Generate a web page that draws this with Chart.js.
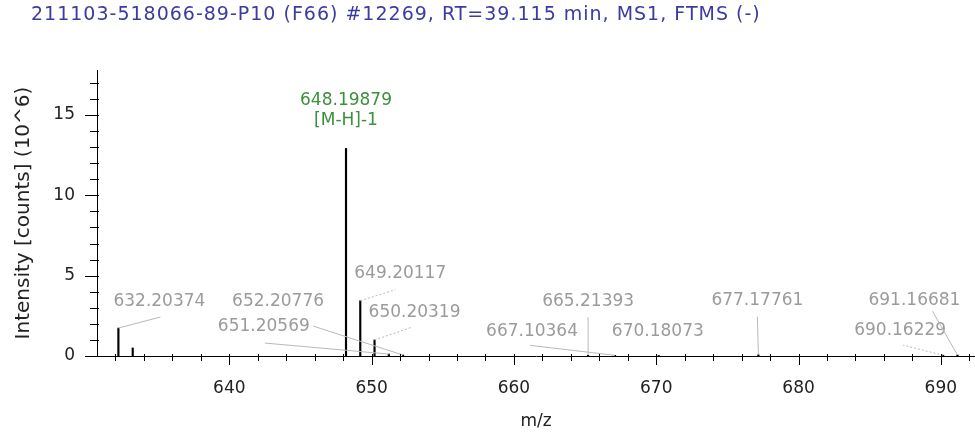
<!DOCTYPE html>
<html>
<head>
<meta charset="utf-8">
<script src="https://cdn.jsdelivr.net/npm/chart.js@4.4.1/dist/chart.umd.min.js"></script>
<style>
  html, body { margin: 0; padding: 0; background: #fff; }
  #wrap { width: 975px; height: 433px; }
</style>
</head>
<body>
<div id="wrap"><canvas id="spectrum" width="975" height="433"></canvas></div>
<script>
/* ── data ─────────────────────────────────────────── */
const TITLE = "211103-518066-89-P10 (F66) #12269, RT=39.115 min, MS1, FTMS (-)";
const mzValues    = [632.20374, 633.21, 648.19879, 649.20117, 650.20319, 651.20569, 652.20776, 665.21393, 667.10364, 670.18073, 677.17761, 690.16229, 691.16681];
const intensities = [1.74, 0.5, 12.92, 3.44, 1.0, 0.12, 0.06, 0.05, 0.04, 0.03, 0.08, 0.05, 0.06];
const peakLabels  = ["632.20374", "", "648.19879", "649.20117", "650.20319", "651.20569", "652.20776", "665.21393", "667.10364", "670.18073", "677.17761", "690.16229", "691.16681"];
const peakNotes   = ["", "", "[M-H]-1", "", "", "", "", "", "", "", "", "", ""];
const xTicks = [640, 650, 660, 670, 680, 690];
const yTicks = [0, 5, 10, 15];

/* ── layout (label offsets from the peak top, in px) ─ */
const labelOffsets = [[41, -26], null, [0, -48], [40, -27], [40, -27], [-125, -27], [-125, -53], [0, -54], [-83, -24], [-1, -24], [-1, -54], [-43, -25], [-43, -54]];
const leaderEnds   = [[1, 15], null, null, [-5, 16], [-2, 14], [1, 16], [35, 24], [0, 16], [-2, 14], null, [0, 16], [3, 15], [18, 10]];
const leaderDashed = [false, false, false, true, true, false, false, false, false, false, false, true, false];

const FONT = "'DejaVu Sans', sans-serif";
const X_MINOR = 2, Y_MINOR = 1;

/* ── plugins ──────────────────────────────────────── */
const titlePlugin = {
  id: "topTitle",
  afterDraw(chart) {
    const ctx = chart.ctx;
    ctx.save();
    ctx.font = "19px " + FONT;
    ctx.letterSpacing = "1px";
    ctx.fillStyle = "#3b3ba0";
    ctx.textAlign = "left";
    ctx.textBaseline = "middle";
    ctx.fillText(TITLE, 31, 15);
    ctx.restore();
  },
};

const tickPlugin = {
  id: "minorTicks",
  afterDraw(chart) {
    const { ctx, scales: { x, y } } = chart;
    ctx.save();
    ctx.strokeStyle = "#000";
    ctx.lineWidth = 1;
    ctx.beginPath();
    for (let v = Math.ceil(x.min / X_MINOR) * X_MINOR; v <= x.max; v += X_MINOR) {
      const px = Math.round(x.getPixelForValue(v)) + 0.5;
      const major = v % 10 === 0;
      ctx.moveTo(px, x.top - 2);
      ctx.lineTo(px, x.top + (major ? 9 : 5));
    }
    for (let v = 0; v <= y.max; v += Y_MINOR) {
      const py = Math.round(y.getPixelForValue(v)) + 0.5;
      const major = v % 5 === 0;
      ctx.moveTo(y.right - (major ? 12 : 7), py);
      ctx.lineTo(y.right + 2, py);
    }
    ctx.stroke();
    ctx.restore();
  },
};

const labelPlugin = {
  id: "peakLabels",
  afterDatasetsDraw(chart) {
    const { ctx, scales: { x, y } } = chart;
    ctx.save();
    ctx.font = "17px " + FONT;
    ctx.textAlign = "center";
    ctx.textBaseline = "middle";
    mzValues.forEach((mz, i) => {
      const off = labelOffsets[i];
      if (!peakLabels[i] || !off) return;
      const px = x.getPixelForValue(mz);
      const py = y.getPixelForValue(intensities[i]);
      const tx = px + off[0], ty = py + off[1];
      const le = leaderEnds[i];
      if (le) {
        ctx.strokeStyle = "#b8b8b8";
        ctx.lineWidth = 1;
        ctx.setLineDash(leaderDashed[i] ? [2, 2] : []);
        ctx.beginPath();
        ctx.moveTo(px, py);
        ctx.lineTo(tx + le[0], ty + le[1]);
        ctx.stroke();
      }
      ctx.fillStyle = peakNotes[i] ? "#3d8f3d" : "#9b9b9b";
      ctx.fillText(peakLabels[i], tx, ty);
      if (peakNotes[i]) ctx.fillText(peakNotes[i], tx, ty + 20);
    });
    ctx.restore();
  },
};

/* ── chart ────────────────────────────────────────── */
new Chart(document.getElementById("spectrum"), {
  type: "bar",
  data: {
    datasets: [{
      data: mzValues.map((m, i) => ({ x: m, y: intensities[i] })),
      backgroundColor: "#000",
      barThickness: 1.5,
    }],
  },
  options: {
    responsive: false,
    animation: false,
    devicePixelRatio: 1,
    layout: { padding: { top: 70, right: 0, left: 0, bottom: 0 } },
    plugins: { legend: { display: false }, tooltip: { enabled: false } },
    scales: {
      x: {
        type: "linear",
        min: 630.7,
        max: 692.4,
        offset: false,
        grid: { display: false, offset: false },
        border: { display: true, color: "#000", width: 1 },
        afterBuildTicks: (s) => { s.ticks = xTicks.map((v) => ({ value: v })); },
        afterFit: (s) => { s.height = 77; },
        ticks: { color: "#222", font: { family: FONT, size: 17 }, padding: 14, maxRotation: 0 },
        title: { display: true, text: "m/z", color: "#222", font: { family: FONT, size: 17 }, padding: { bottom: 1 } },
      },
      y: {
        min: 0,
        max: 17.8,
        grid: { display: false },
        border: { display: true, color: "#000", width: 1 },
        afterBuildTicks: (s) => { s.ticks = yTicks.map((v) => ({ value: v })); },
        afterFit: (s) => { s.width = 97; },
        ticks: { color: "#222", font: { family: FONT, size: 17 }, padding: 14 },
        title: { display: true, text: "Intensity [counts] (10^6)", color: "#222", font: { family: FONT, size: 20 }, padding: { top: 12 } },
      },
    },
  },
  plugins: [titlePlugin, tickPlugin, labelPlugin],
});
</script>
</body>
</html>
